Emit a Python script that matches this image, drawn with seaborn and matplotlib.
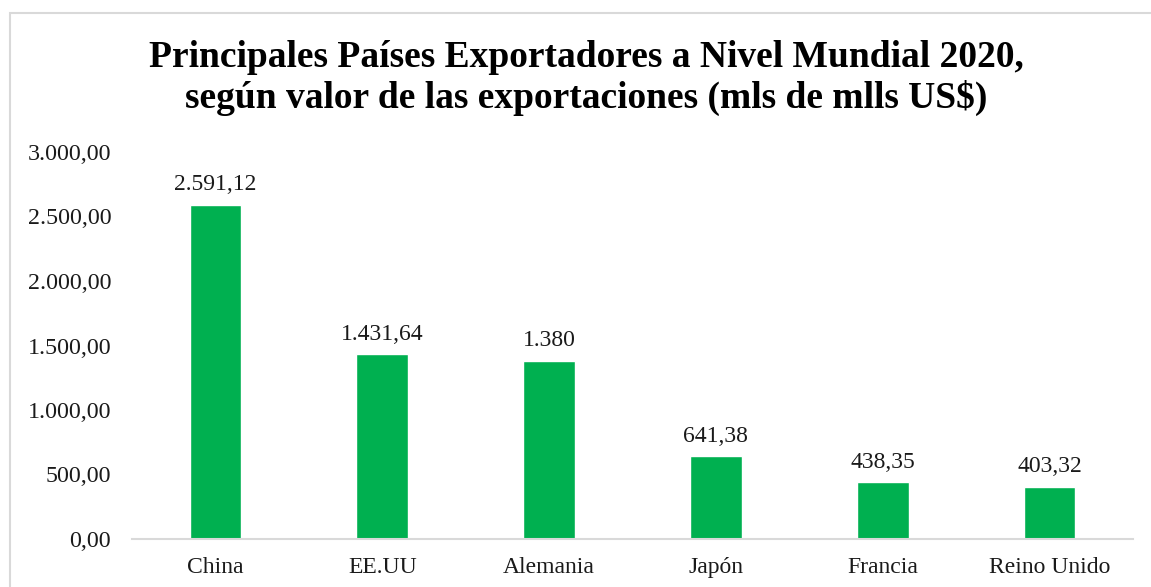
import matplotlib
matplotlib.use("Agg")
import matplotlib.pyplot as plt
import seaborn as sns
import pandas as pd
from matplotlib.patches import Rectangle

# Datos (mls de mlls US$)
paises = ["China", "EE.UU", "Alemania", "Japón", "Francia", "Reino Unido"]
valores = [2591.12, 1431.64, 1380.0, 641.38, 438.35, 403.32]
etiquetas = ["2.591,12", "1.431,64", "1.380", "641,38", "438,35", "403,32"]
yticks = [0, 500, 1000, 1500, 2000, 2500, 3000]
ytick_labels = ["0,00", "500,00", "1.000,00", "1.500,00", "2.000,00", "2.500,00", "3.000,00"]

sns.set_theme(style="white")
plt.rcParams['font.family'] = ['Liberation Serif', 'DejaVu Serif']

W, H = 1151, 587
fig = plt.figure(figsize=(W / 100, H / 100), dpi=100)
ax = fig.add_axes([132 / W, 1 - 539 / H, (1133 - 132) / W, (539 - 152) / H])

df = pd.DataFrame({"pais": paises, "valor": valores})
sns.barplot(data=df, x="pais", y="valor", color="#00B050", saturation=1,
            width=0.31, ax=ax)

ax.bar_label(ax.containers[0], labels=etiquetas, padding=7, fontsize=17, color="#1a1a1a")

ax.set_ylim(0, 3000)
ax.set_xlim(-0.5, len(paises) - 0.5)
ax.set_yticks(yticks)
ax.set_yticklabels(ytick_labels, fontsize=17.3, color="#1a1a1a")
ax.tick_params(axis="y", length=0, pad=15)
ax.tick_params(axis="x", length=0, pad=13, labelsize=17, labelcolor="#1a1a1a")
ax.set_xlabel("")
ax.set_ylabel("")

for s in ["top", "right", "left"]:
    ax.spines[s].set_visible(False)
ax.spines["bottom"].set_color("#d9d9d9")
ax.spines["bottom"].set_linewidth(1.5)

fig.text(0.5 + (587 - 576) / W, 1 - 78 / H,
         "Principales Países Exportadores a Nivel Mundial 2020,\nsegún valor de las exportaciones (mls de mlls US$)",
         ha="center", va="center", fontsize=27, fontweight="bold", linespacing=1.15,
         color="black")

# borde del área del gráfico
fig.patches.append(Rectangle((10 / W, -0.1), 1.1, 1 - 13 / H + 0.1, transform=fig.transFigure,
                             fill=False, edgecolor="#d9d9d9", linewidth=1.5))

fig.savefig("out.png", dpi=100)
